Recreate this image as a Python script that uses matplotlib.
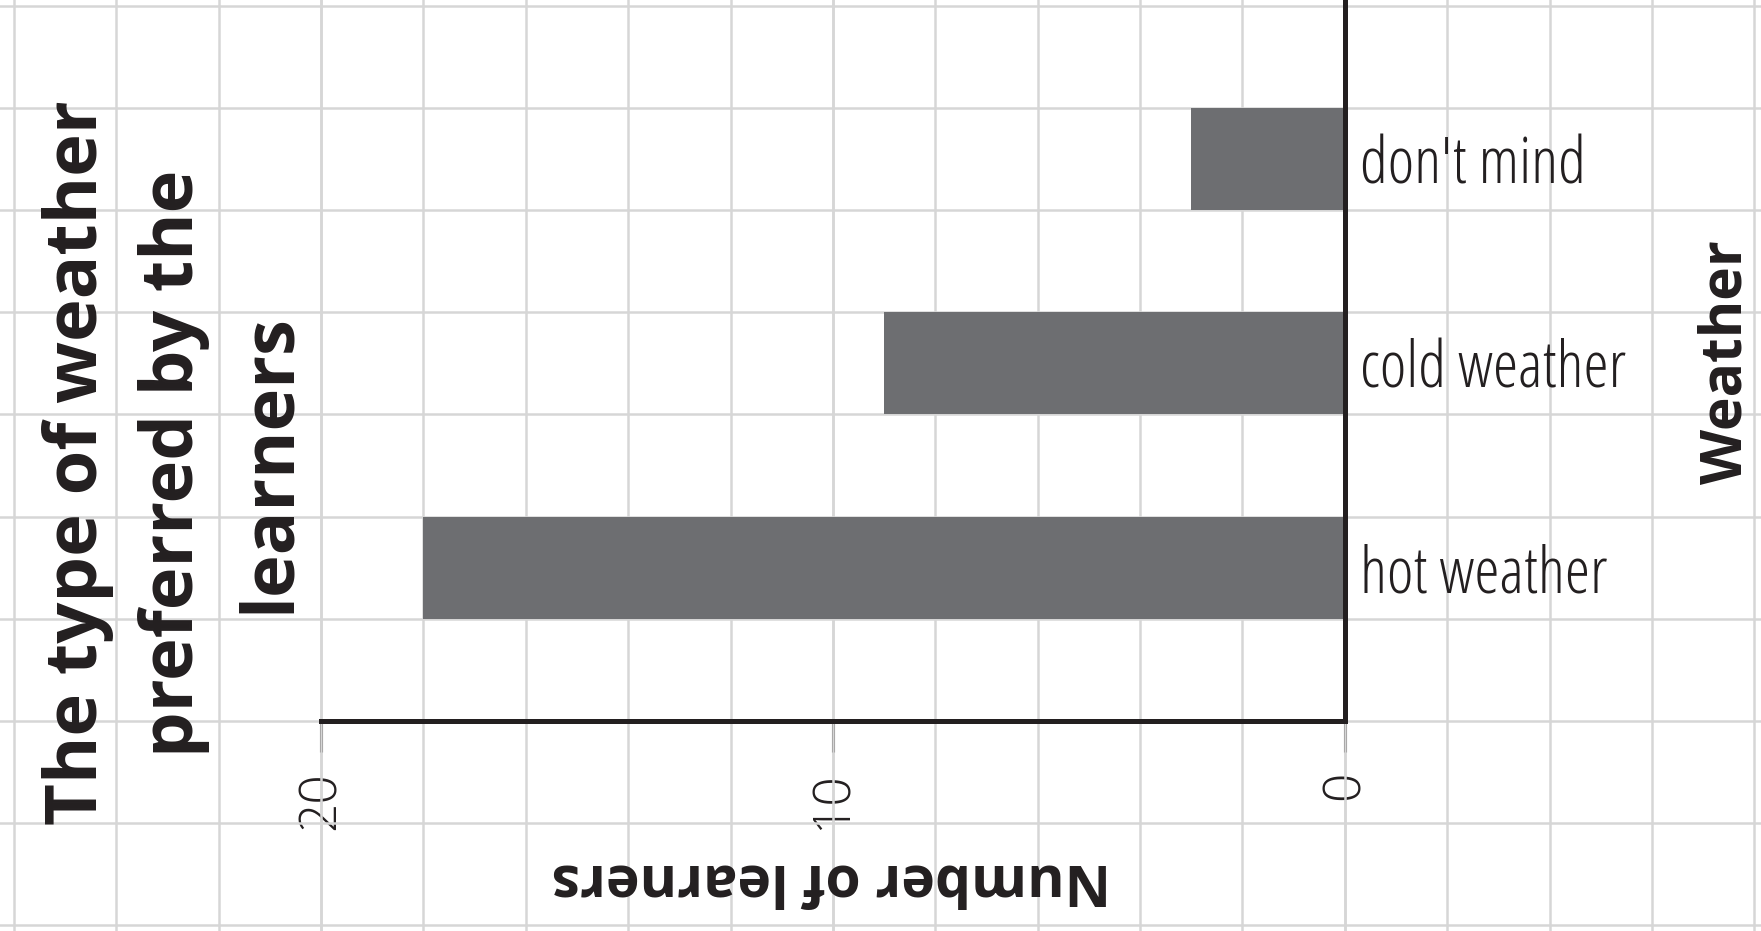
import matplotlib
matplotlib.use("Agg")
import matplotlib.pyplot as plt
from matplotlib.font_manager import FontProperties

# data
weather = ["hot weather", "cold weather", "don't mind"]
learners = [18, 9, 3]
x_ticks = [0, 10, 20]

title_left = ["The type of weather", "preferred by the", "learners"]
title_right = "Weather"
x_label = "Number of learners"

bar_color = "#6d6e71"
grid_color = "#d6d6d6"
ink = "#231f20"

light = FontProperties(family="Open Sans", weight="light", stretch="condensed")
light_wide = FontProperties(family="Open Sans", weight="light")
bold = FontProperties(family="Open Sans", weight="bold")

W, H = 1761, 931
fig = plt.figure(figsize=(W / 100, H / 100), dpi=100)
ax = fig.add_axes([0, 0, 1, 1])
ax.set_xlim(26.27, -8.13)
ax.set_ylim(-2.055, 7.055)

ypos = [1.5 + 2 * i for i in range(len(weather))]
ax.barh(ypos, learners, height=1, color=bar_color, zorder=2)

# grid over the whole page
ax.set_xticks(range(-8, 27, 2), minor=True)
ax.set_yticks(range(-2, 8), minor=True)
ax.xaxis.remove_overlapping_locs = False
ax.xaxis.grid(True, which="both", color=grid_color, lw=1.8)
ax.yaxis.grid(True, which="minor", color=grid_color, lw=1.8)
ax.set_axisbelow(True)

for s in ["top", "left"]:
    ax.spines[s].set_visible(False)
ax.spines["bottom"].set_position(("data", 0))
ax.spines["bottom"].set_bounds(0, 20)
ax.spines["right"].set_position(("data", 0))
ax.spines["right"].set_bounds(0, 7.055)
for s in ["bottom", "right"]:
    ax.spines[s].set_linewidth(3.6)
    ax.spines[s].set_color(ink)
    ax.spines[s].set_capstyle("projecting")
    ax.spines[s].set_zorder(3)

ax.set_xticks(x_ticks)
ax.set_xticklabels([str(t) for t in x_ticks], rotation=90, fontproperties=light_wide,
                   fontsize=37, color=ink)
ax.tick_params(axis="x", which="major", length=22, width=2.2, color=ink, pad=14)
ax.tick_params(which="minor", length=0)

ax.yaxis.tick_right()
ax.set_yticks(ypos)
ax.set_yticklabels(weather, fontproperties=light, fontsize=46, color=ink)
ax.tick_params(axis="y", which="major", length=0, pad=11)

# rotated titles, anchored on their baselines
for i, line in enumerate(title_left):
    fig.text((97 + 96 * i) / W, 1 - 463 / H, line, rotation=90, rotation_mode="anchor",
             ha="center", va="baseline", fontproperties=bold, fontsize=52, color=ink)
fig.text(1741 / W, 1 - 362 / H, title_right, rotation=90, rotation_mode="anchor",
         ha="center", va="baseline", fontproperties=bold, fontsize=41, color=ink)
fig.text(831 / W, 1 - 865 / H, x_label, rotation=180, rotation_mode="anchor",
         ha="center", va="baseline", fontproperties=bold, fontsize=41, color=ink)

fig.savefig("out.png", dpi=100)
